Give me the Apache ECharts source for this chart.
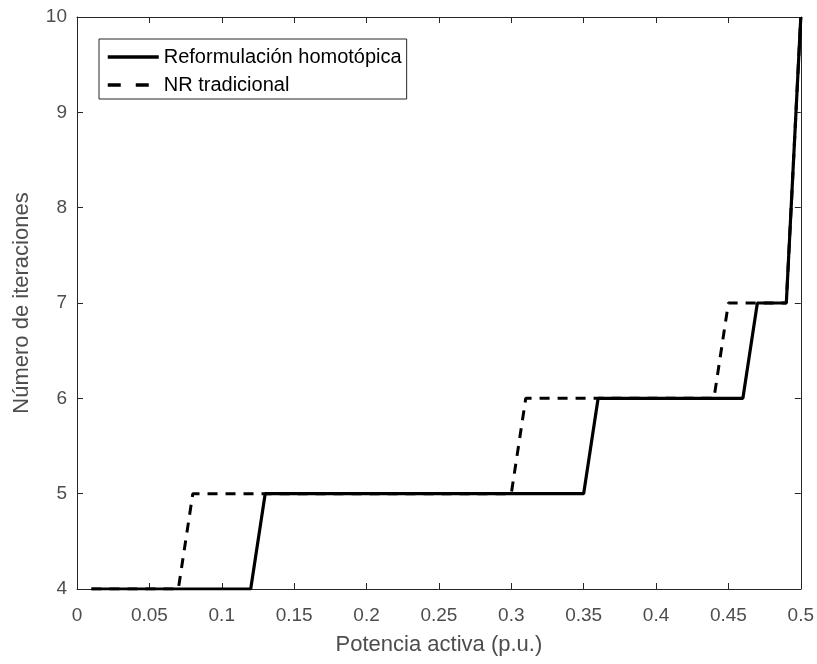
<!DOCTYPE html>
<html>
<head>
<meta charset="utf-8">
<script src="https://cdn.jsdelivr.net/npm/echarts@6/dist/echarts.min.js"></script>
<style>
  html, body { margin: 0; padding: 0; background: #fff; }
  #chart { width: 817px; height: 664px; }
</style>
</head>
<body>
<div id="chart"></div>
<script>
// Iteraciones vs potencia activa: breakpoints of the two step curves
const homotopicaX = [0.01, 0.12, 0.13, 0.35, 0.36, 0.46, 0.47, 0.49, 0.5];
const homotopicaY = [4, 4, 5, 5, 6, 6, 7, 7, 10];
const tradicionalX = [0.01, 0.07, 0.08, 0.30, 0.31, 0.44, 0.45, 0.49, 0.5];
const tradicionalY = [4, 4, 5, 5, 6, 6, 7, 7, 10];
const seriesNames = ["Reformulación homotópica", "NR tradicional"];

const FONT = "Arial, 'Liberation Sans', Helvetica, sans-serif";
const INK = "#262626";
const LABEL = "#4d4d4d";

const pairs = (xs, ys) => xs.map((x, i) => [x, ys[i]]);

// MATLAB-style box: every side gets an axis line with inward ticks
const boxAxis = (extra) => Object.assign({
  type: "value",
  axisLine: { show: true, onZero: false, lineStyle: { color: INK, width: 1 } },
  axisTick: { show: true, inside: true, length: 6, lineStyle: { color: INK } },
  splitLine: { show: false },
}, extra);

const chart = echarts.init(document.getElementById("chart"));
chart.setOption({
  animation: false,
  backgroundColor: "#fff",
  color: ["#000", "#000"],
  textStyle: { fontFamily: FONT },
  grid: { left: 77, right: 15, top: 17, bottom: 75 },
  legend: {
    left: 99, top: 39,
    orient: "vertical",
    data: [
      { name: seriesNames[0], lineStyle: { type: "solid", width: 3.5 } },
      { name: seriesNames[1], lineStyle: { type: [13, 15], width: 3.5 } },
    ],
    borderColor: INK, borderWidth: 1,
    padding: [8, 5, 4, 7],
    itemGap: 8,
    itemWidth: 51, itemHeight: 14,
    itemStyle: { opacity: 0 },
    textStyle: { fontSize: 20, color: "#000", fontFamily: FONT },
  },
  xAxis: [
    boxAxis({
      min: 0, max: 0.5, interval: 0.05, position: "bottom",
      name: "Potencia activa (p.u.)", nameLocation: "middle", nameGap: 45,
      nameTextStyle: { fontSize: 22, color: LABEL },
      axisLabel: { fontSize: 19, color: LABEL, margin: 17, formatter: (v) => String(+v.toFixed(2)) },
    }),
    boxAxis({ min: 0, max: 0.5, interval: 0.05, position: "top", axisLabel: { show: false } }),
  ],
  yAxis: [
    boxAxis({
      min: 4, max: 10, interval: 1, position: "left",
      name: "Número de iteraciones", nameLocation: "middle", nameGap: 44,
      nameTextStyle: { fontSize: 22, color: LABEL },
      axisLabel: { fontSize: 19, color: LABEL, margin: 10 },
    }),
    boxAxis({ min: 4, max: 10, interval: 1, position: "right", axisLabel: { show: false } }),
  ],
  series: [
    { name: seriesNames[1], type: "line", data: pairs(tradicionalX, tradicionalY),
      symbol: "none", z: 2,
      lineStyle: { color: "#000", width: 3, type: [10, 8] } },
    { name: seriesNames[0], type: "line", data: pairs(homotopicaX, homotopicaY),
      symbol: "none", z: 3,
      lineStyle: { color: "#000", width: 3.2, type: "solid" } },
  ],
});
</script>
</body>
</html>
